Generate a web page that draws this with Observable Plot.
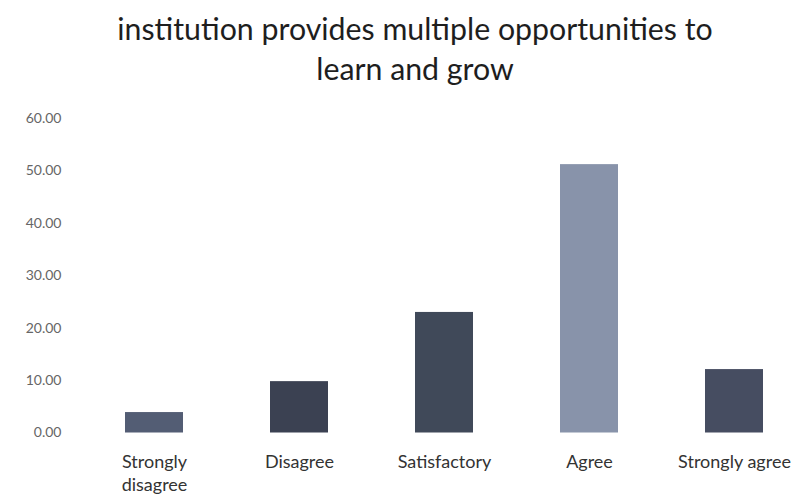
<!DOCTYPE html>
<html>
<head>
<meta charset="utf-8">
<script src="https://cdn.jsdelivr.net/npm/d3@7"></script>
<script src="https://cdn.jsdelivr.net/npm/@observablehq/plot@0.6"></script>
<style>
  body { margin: 0; background: #fff; }
  #title { width: 798px; height: 95px; box-sizing: border-box; padding-top: 8px; padding-left: 32px;
           text-align: center; font-family: Lato, "Open Sans", sans-serif; font-size: 30.3px; line-height: 40px; color: #1e1e1e; }
</style>
</head>
<body>
<div id="title">institution provides multiple opportunities to<br>learn and grow</div>
<div id="chart"></div>
<script>
const categories = ["Strongly\ndisagree", "Disagree", "Satisfactory", "Agree", "Strongly agree"];
const values = [3.9, 9.8, 23.0, 51.2, 12.1];
const colors = ["#535d74", "#3b4152", "#404959", "#8893aa", "#464d61"];
const yTicks = [0, 10, 20, 30, 40, 50, 60];

const data = categories.map((c, i) => ({category: c, value: values[i], color: colors[i]}));

const chart = Plot.plot({
  width: 798,
  height: 405,
  marginTop: 23,
  marginBottom: 67.5,
  marginLeft: 89,
  marginRight: 0,
  style: {fontFamily: "Lato, 'Open Sans', sans-serif", background: "#fff"},
  x: {domain: categories, paddingInner: 0.6, paddingOuter: 0.24, label: null},
  y: {domain: [0, 60], ticks: yTicks, label: null},
  marks: [
    Plot.barY(data, {x: "category", y: "value", fill: "color"}),
    Plot.axisY({ticks: yTicks, tickSize: 0, tickPadding: 28, tickFormat: d => d.toFixed(2),
                fontSize: 14, fill: "#666", label: null}),
    Plot.axisX({tickSize: 0, tickPadding: 18, fontSize: 18, fill: "#333", lineHeight: 1.3, label: null})
  ]
});
document.getElementById("chart").appendChild(chart);
</script>
</body>
</html>
